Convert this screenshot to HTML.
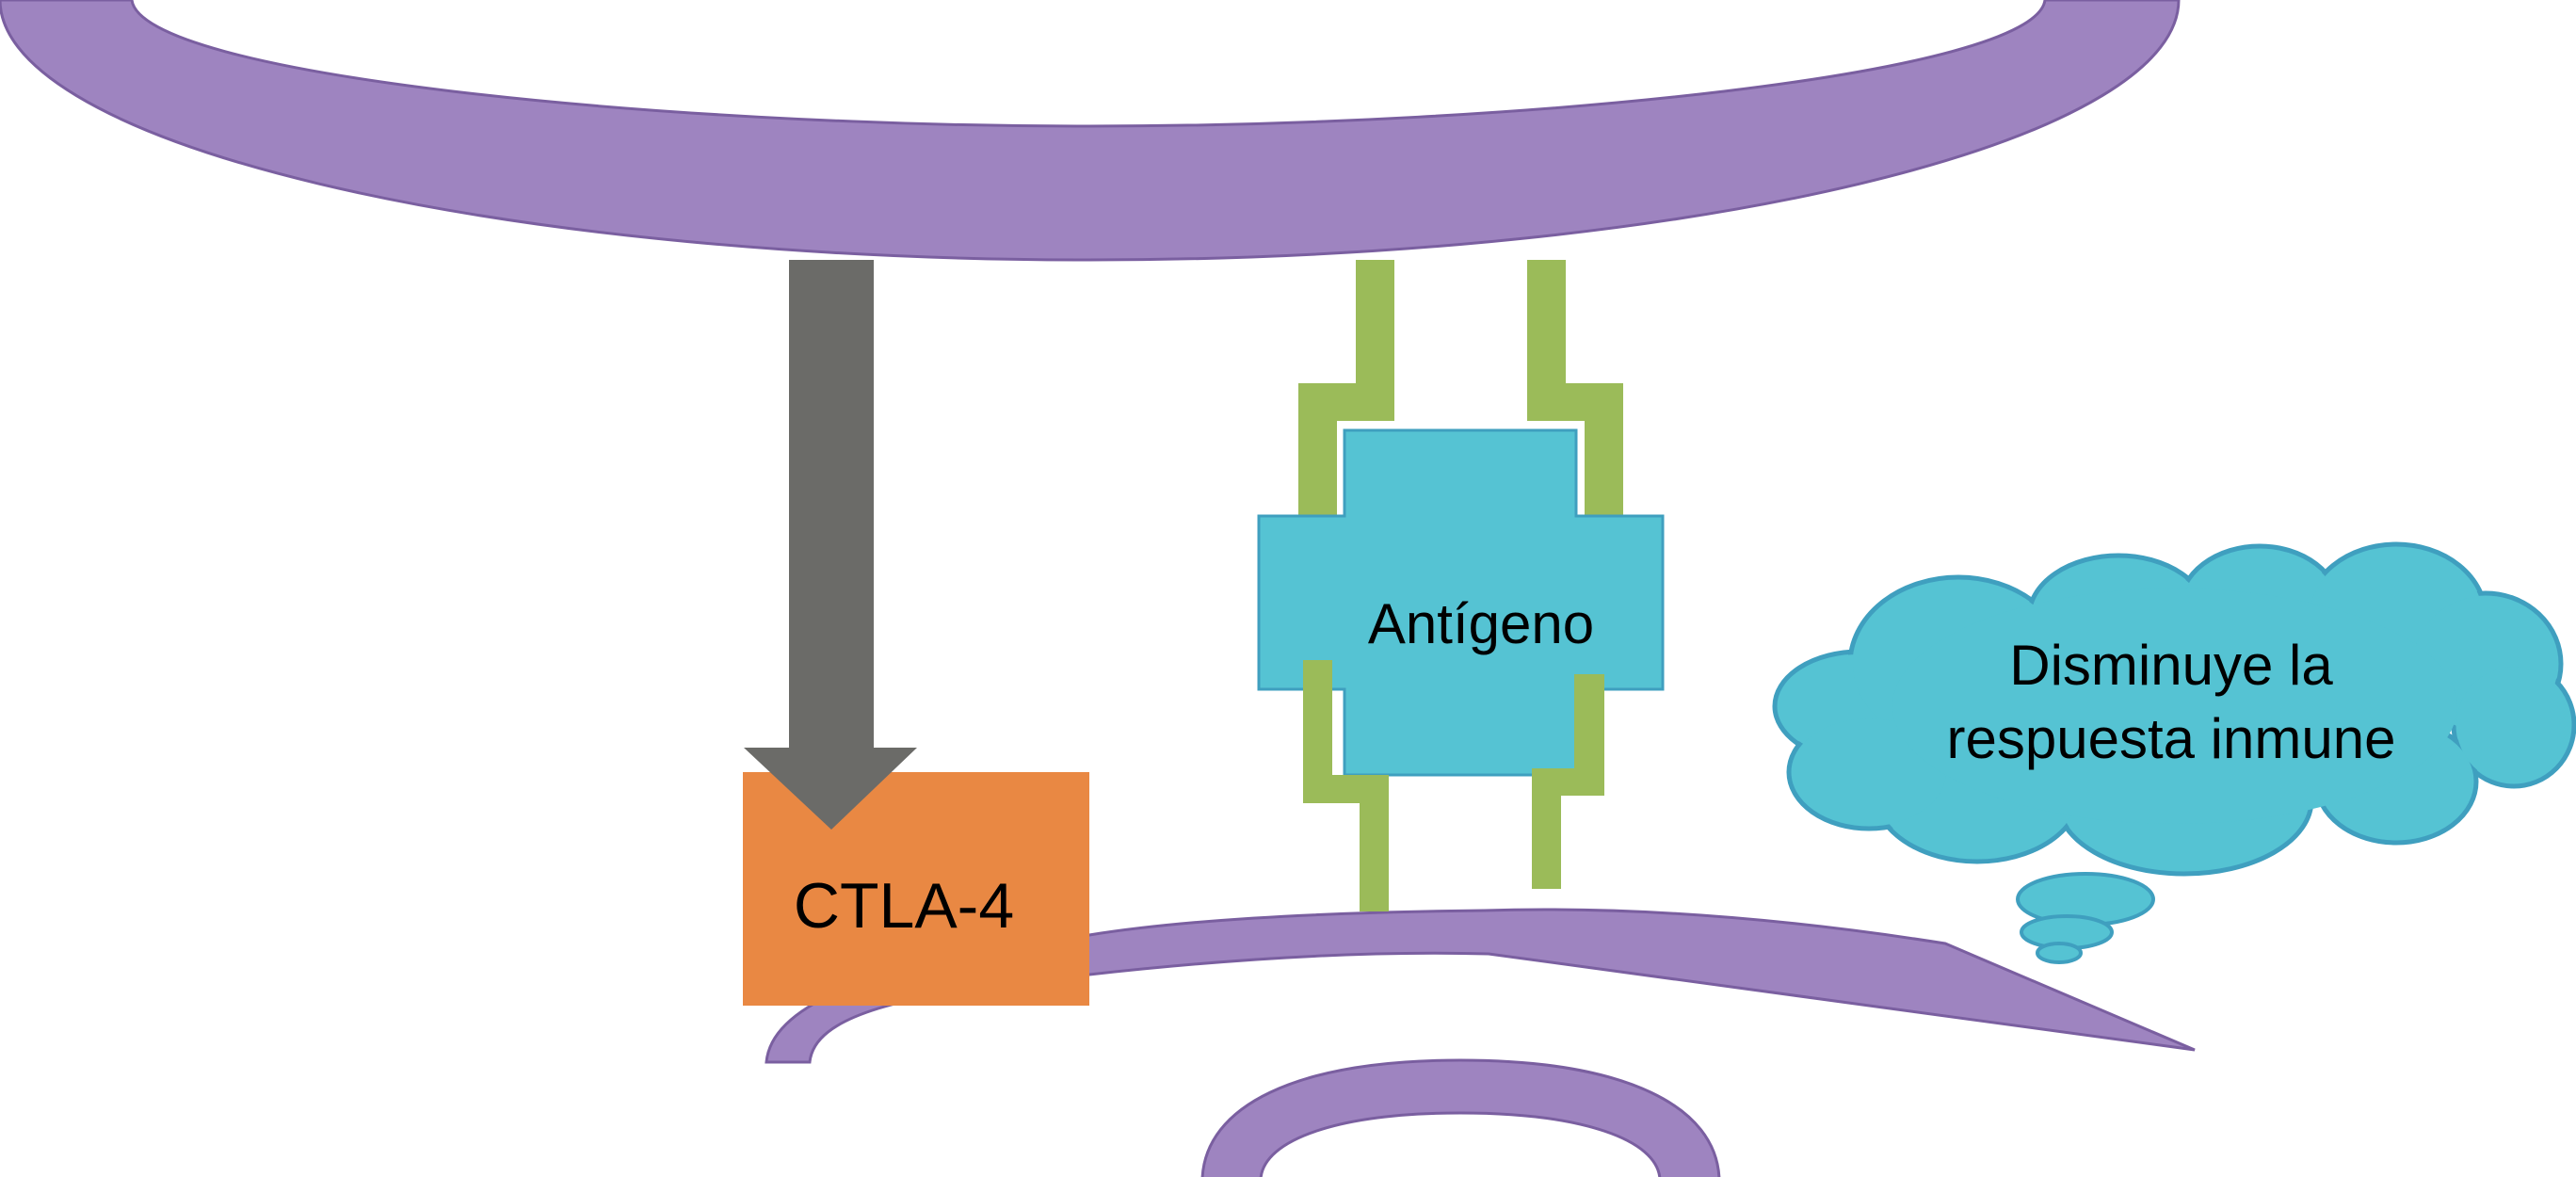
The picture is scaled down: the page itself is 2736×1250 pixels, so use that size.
<!DOCTYPE html>
<html><head><meta charset="utf-8"><style>
html,body{margin:0;padding:0;background:#fff;}
svg{display:block;}
text{font-family:"Liberation Sans",Arial,sans-serif;fill:#000;}
</style></head><body>
<svg width="2736" height="1250" viewBox="0 0 2736 1250" xmlns="http://www.w3.org/2000/svg">
<!-- top membrane -->
<path d="M0,0 L140,0 C150,80 700,134 1156,134 C1612,134 2162,80 2172,0 L2314,0 A1157,276 0 0 1 0,0 Z" fill="#9e84c0" stroke="#7a5fa0" stroke-width="3"/>
<!-- lower band -->
<path d="M814,1128 L860,1128 C865,1080 950,1055 1157,1035 Q1400,1008 1581,1013 L2331,1115 L2066,1002 Q1800,960 1576,967 Q1300,970 1157,993 C950,1020 820,1060 814,1128 Z" fill="#9e84c0" stroke="#7a5fa0" stroke-width="3"/>
<!-- bottom arch -->
<path d="M1277,1252 C1280,1175 1375,1126 1551,1126 C1727,1126 1823,1175 1826,1252 L1763,1252 C1760,1210 1680,1182 1551,1182 C1422,1182 1342,1210 1339,1252 Z" fill="#9e84c0" stroke="#7a5fa0" stroke-width="3"/>
<!-- top green receptors -->
<polygon points="1440,276 1481,276 1481,447 1420,447 1420,547 1379,547 1379,407 1440,407" fill="#9bbb59"/>
<polygon points="1622,276 1663,276 1663,407 1724,407 1724,547 1683,547 1683,447 1622,447" fill="#9bbb59"/>
<!-- antigen -->
<polygon points="1428,457 1674,457 1674,548 1766,548 1766,732 1674,732 1674,823 1428,823 1428,732 1337,732 1337,548 1428,548" fill="#55c3d3" stroke="#3f9fbf" stroke-width="3"/>
<text x="1573" y="683" font-size="60" text-anchor="middle">Antígeno</text>
<!-- bottom green receptors -->
<polygon points="1384,701 1415,701 1415,823 1475,823 1475,968 1444,968 1444,853 1384,853" fill="#9bbb59"/>
<polygon points="1672,716 1704,716 1704,845 1658,845 1658,944 1627,944 1627,816 1672,816" fill="#9bbb59"/>
<!-- CTLA-4 box -->
<rect x="789" y="820" width="368" height="248" fill="#e98843"/>
<text x="960" y="985" font-size="68" text-anchor="middle">CTLA-4</text>
<!-- arrow -->
<polygon points="838,276 928,276 928,794 974,794 883,881 790,794 838,794" fill="#6b6b68"/>
<!-- cloud -->
<g fill="#55c3d3" stroke="#3f9fbf" stroke-width="5">
<ellipse cx="1975" cy="750" rx="90" ry="58"/>
<ellipse cx="2080" cy="705" rx="115" ry="92"/>
<ellipse cx="2250" cy="655" rx="95" ry="65"/>
<ellipse cx="2400" cy="645" rx="85" ry="65"/>
<ellipse cx="2545" cy="655" rx="95" ry="77"/>
<ellipse cx="2640" cy="705" rx="80" ry="75"/>
<ellipse cx="2670" cy="770" rx="64" ry="65"/>
<ellipse cx="2545" cy="830" rx="85" ry="65"/>
<ellipse cx="2320" cy="850" rx="135" ry="78"/>
<ellipse cx="2100" cy="840" rx="110" ry="75"/>
<ellipse cx="1985" cy="820" rx="85" ry="60"/>
</g>
<g fill="#55c3d3">
<ellipse cx="1975" cy="750" rx="87" ry="55"/>
<ellipse cx="2080" cy="705" rx="112" ry="89"/>
<ellipse cx="2250" cy="655" rx="92" ry="62"/>
<ellipse cx="2400" cy="645" rx="82" ry="62"/>
<ellipse cx="2545" cy="655" rx="92" ry="74"/>
<ellipse cx="2640" cy="705" rx="77" ry="72"/>
<ellipse cx="2670" cy="770" rx="61" ry="62"/>
<ellipse cx="2545" cy="830" rx="82" ry="62"/>
<ellipse cx="2320" cy="850" rx="132" ry="75"/>
<ellipse cx="2100" cy="840" rx="107" ry="72"/>
<ellipse cx="1985" cy="820" rx="82" ry="57"/>
<ellipse cx="2310" cy="750" rx="300" ry="125"/>
</g>
<g fill="#55c3d3" stroke="#3f9fbf" stroke-width="4">
<ellipse cx="2215" cy="955" rx="72" ry="27"/>
<ellipse cx="2195" cy="990" rx="48" ry="17"/>
<ellipse cx="2187" cy="1012" rx="23" ry="10"/>
</g>
<text x="2306" y="727" font-size="60" text-anchor="middle">Disminuye la</text>
<text x="2306" y="805" font-size="60" text-anchor="middle">respuesta inmune</text>
</svg>
</body></html>
